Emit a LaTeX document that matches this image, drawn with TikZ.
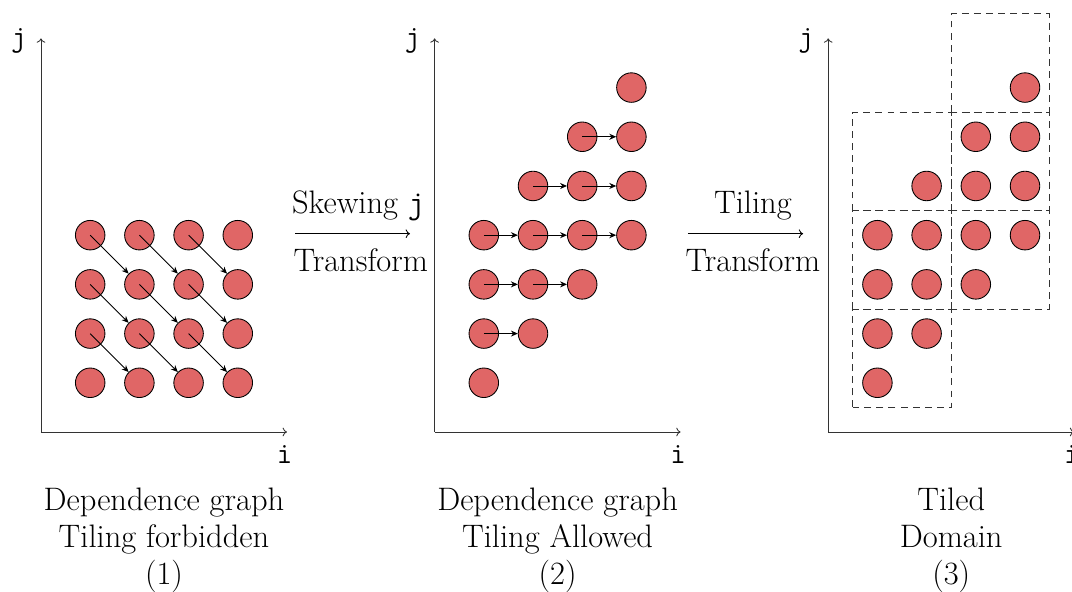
\documentclass[tikz,border=0pt]{standalone}
\usetikzlibrary{arrows.meta}
\definecolor{dotred}{RGB}{224,102,102}
\begin{document}
\begin{tikzpicture}[x=1cm,y=1cm,
  dot/.style={circle,draw=black,line width=0.5pt,fill=dotred,minimum size=0.6cm,inner sep=0pt},
  dep/.style={line width=0.5pt,-{Stealth[length=4pt,width=3.5pt]}},
  axis/.style={line width=0.5pt,draw=black!80,-{To[length=2.5pt,width=5pt]}},
  tile/.style={draw=black!80,line width=0.5pt,dash pattern=on 4pt off 3pt},
  lbl/.style={font=\fontsize{18.8}{21.3}\selectfont,inner sep=0pt},
  axlbl/.style={font=\fontsize{17.3}{21.3}\selectfont\ttfamily,inner sep=0pt},
  captext/.style={font=\fontsize{18.8}{21.3}\selectfont,align=center,inner sep=0pt},
  trans/.style={line width=0.5pt,-{To[length=2.5pt,width=5pt]}}
]
\useasboundingbox (-0.833,-3.252) rectangle (20.955,8.78);

% ---------- axes ----------
\foreach \p/\ox in {a/0,b/8,c/16}{
  \coordinate (\p-o) at (\ox,0);
  \coordinate (\p-yt) at (\ox,8);
  \coordinate (\p-xr) at (\ox+5,0);
  \draw[axis] (\p-o) -- (\p-yt);
  \draw[axis] (\p-o) -- (\p-xr);
  \node[axlbl] (\p-jl) at (\ox-0.45,7.95) {j};
  \node[axlbl] (\p-il) at (\ox+4.95,-0.45) {i};
}

% ---------- panel 1 ----------
\foreach \i in {0,...,3}{
  \foreach \j in {0,...,3}{
    \node[dot] (a-\i-\j) at (1+\i,1+\j) {};
  }
}
\foreach \i in {0,...,2}{
  \foreach \j in {1,...,3}{
    \pgfmathtruncatemacro\ni{\i+1}
    \pgfmathtruncatemacro\nj{\j-1}
    \draw[dep] (a-\i-\j.center) -- (a-\ni-\nj);
  }
}

% ---------- panels 2 and 3 ----------
\foreach \j in {0,...,6}{
  \pgfmathtruncatemacro\lo{max(0,\j-3)}
  \pgfmathtruncatemacro\hi{min(3,\j)}
  \foreach \i in {\lo,...,\hi}{
    \node[dot] (b-\i-\j) at (9+\i,1+\j) {};
    \node[dot] (c-\i-\j) at (17+\i,1+\j) {};
  }
}
\foreach \j in {1,...,5}{
  \pgfmathtruncatemacro\lo{max(0,\j-3)}
  \pgfmathtruncatemacro\hm{min(3,\j)-1}
  \foreach \i in {\lo,...,\hm}{
    \pgfmathtruncatemacro\ni{\i+1}
    \draw[dep] (b-\i-\j.center) -- (b-\ni-\j);
  }
}

% ---------- tiles ----------
\draw[tile] (16.5,0.5) rectangle (18.5,2.5);
\draw[tile] (16.5,2.5) rectangle (18.5,4.5);
\draw[tile] (16.5,4.5) rectangle (18.5,6.5);
\draw[tile] (18.5,2.5) rectangle (20.5,4.5);
\draw[tile] (18.5,4.5) rectangle (20.5,6.5);
\draw[tile] (18.5,6.5) rectangle (20.5,8.5);

% ---------- transforms ----------
\coordinate (t1s) at (5.17,4.03);
\coordinate (t1e) at (7.5,4.03);
\draw[trans] (t1s) -- (t1e);
\node[lbl] (t1a) at (6.45,4.6) {Skewing \texttt{j}};
\node[lbl] (t1b) at (6.5,3.5) {Transform};

\coordinate (t2s) at (13.15,4.03);
\coordinate (t2e) at (15.49,4.03);
\draw[trans] (t2s) -- (t2e);
\node[lbl] (t2a) at (14.47,4.6) {Tiling};
\node[lbl] (t2b) at (14.47,3.5) {Transform};

% ---------- captions ----------
\node[captext] (cap1) at (2.5,-2.2) {Dependence graph\\Tiling forbidden\\(1)};
\node[captext] (cap2) at (10.5,-2.2) {Dependence graph\\Tiling Allowed\\(2)};
\node[captext] (cap3) at (18.5,-2.2) {Tiled\\Domain\\(3)};
\end{tikzpicture}
\end{document}
